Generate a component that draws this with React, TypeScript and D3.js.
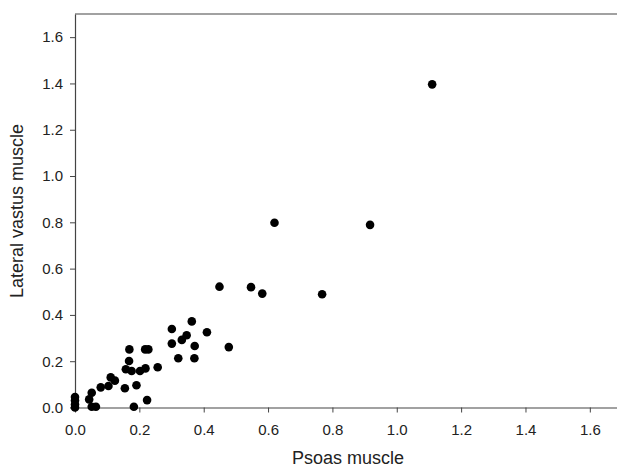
import React, { useEffect, useRef } from 'react';
import * as d3 from 'd3';

// Psoas muscle (x) vs Lateral vastus muscle (y)
const psoas = [
  1.11, 0.62, 0.917, 0.547, 0.582, 0.768, 0.449,
  0.363, 0.301, 0.41, 0.347, 0.332, 0.301, 0.372, 0.478, 0.321, 0.371,
  0, 0, 0, 0,
  0.052, 0.044, 0.052, 0.065, 0.08, 0.104, 0.111, 0.124, 0.155, 0.191, 0.183,
  0.169, 0.168, 0.158, 0.176, 0.202, 0.219, 0.218, 0.228, 0.257, 0.224
];
const lateral = [
  1.396, 0.798, 0.789, 0.52, 0.492, 0.489, 0.522,
  0.372, 0.339, 0.325, 0.312, 0.292, 0.276, 0.266, 0.261, 0.213, 0.213,
  0.045, 0.03, 0.013, 0.0,
  0.064, 0.035, 0.003, 0.003, 0.087, 0.093, 0.13, 0.116, 0.083, 0.096, 0.003,
  0.251, 0.201, 0.165, 0.158, 0.158, 0.169, 0.251, 0.251, 0.174, 0.032
];
const ticks = [0, 0.2, 0.4, 0.6, 0.8, 1.0, 1.2, 1.4, 1.6];

const W = 617, H = 468;
const FONT = '"Liberation Sans", Arial, sans-serif';

export default function App() {
  const ref = useRef<SVGSVGElement>(null);

  useEffect(() => {
    const svg = d3.select(ref.current);
    svg.selectAll('*').remove();

    const x = d3.scaleLinear().domain([0, 1.7]).range([75, 622]);
    const y = d3.scaleLinear().domain([0, 1.7]).range([407.5, 14]);

    // top frame line
    svg.append('line')
      .attr('x1', x(0)).attr('x2', W)
      .attr('y1', y(1.7)).attr('y2', y(1.7))
      .attr('stroke', '#444').attr('stroke-width', 1.2);

    const xAxis = svg.append('g')
      .attr('transform', `translate(0, ${y(0)})`)
      .call(d3.axisBottom(x).tickValues(ticks).tickFormat(d3.format('.1f'))
        .tickSize(5).tickSizeOuter(0).tickPadding(12));

    const yAxis = svg.append('g')
      .attr('transform', `translate(${x(0)}, 0)`)
      .call(d3.axisLeft(y).tickValues(ticks).tickFormat(d3.format('.1f'))
        .tickSize(5).tickSizeOuter(0).tickPadding(7));

    [xAxis, yAxis].forEach(g => {
      g.select('.domain').attr('stroke', '#444').attr('stroke-width', 1.2);
      g.selectAll('.tick line').attr('stroke', '#444');
      g.selectAll('.tick text')
        .attr('fill', '#222')
        .style('font-family', FONT)
        .style('font-size', '15px');
    });

    svg.selectAll('circle.pt')
      .data(psoas.map((p, i) => ({ p, l: lateral[i] })))
      .join('circle')
      .attr('class', 'pt')
      .attr('cx', d => x(d.p))
      .attr('cy', d => y(d.l))
      .attr('r', 4.3)
      .attr('fill', '#000');

    svg.append('text')
      .attr('x', 348)
      .attr('y', 464)
      .attr('text-anchor', 'middle')
      .attr('fill', '#222')
      .style('font-family', FONT)
      .style('font-size', '18px')
      .text('Psoas muscle');

    svg.append('text')
      .attr('transform', `translate(23, 211) rotate(-90)`)
      .attr('text-anchor', 'middle')
      .attr('fill', '#222')
      .style('font-family', FONT)
      .style('font-size', '18px')
      .text('Lateral vastus muscle');
  }, []);

  return (
    <svg
      ref={ref}
      width={W}
      height={H}
      style={{ position: 'absolute', left: 0, top: 0, background: '#fff' }}
    />
  );
}
